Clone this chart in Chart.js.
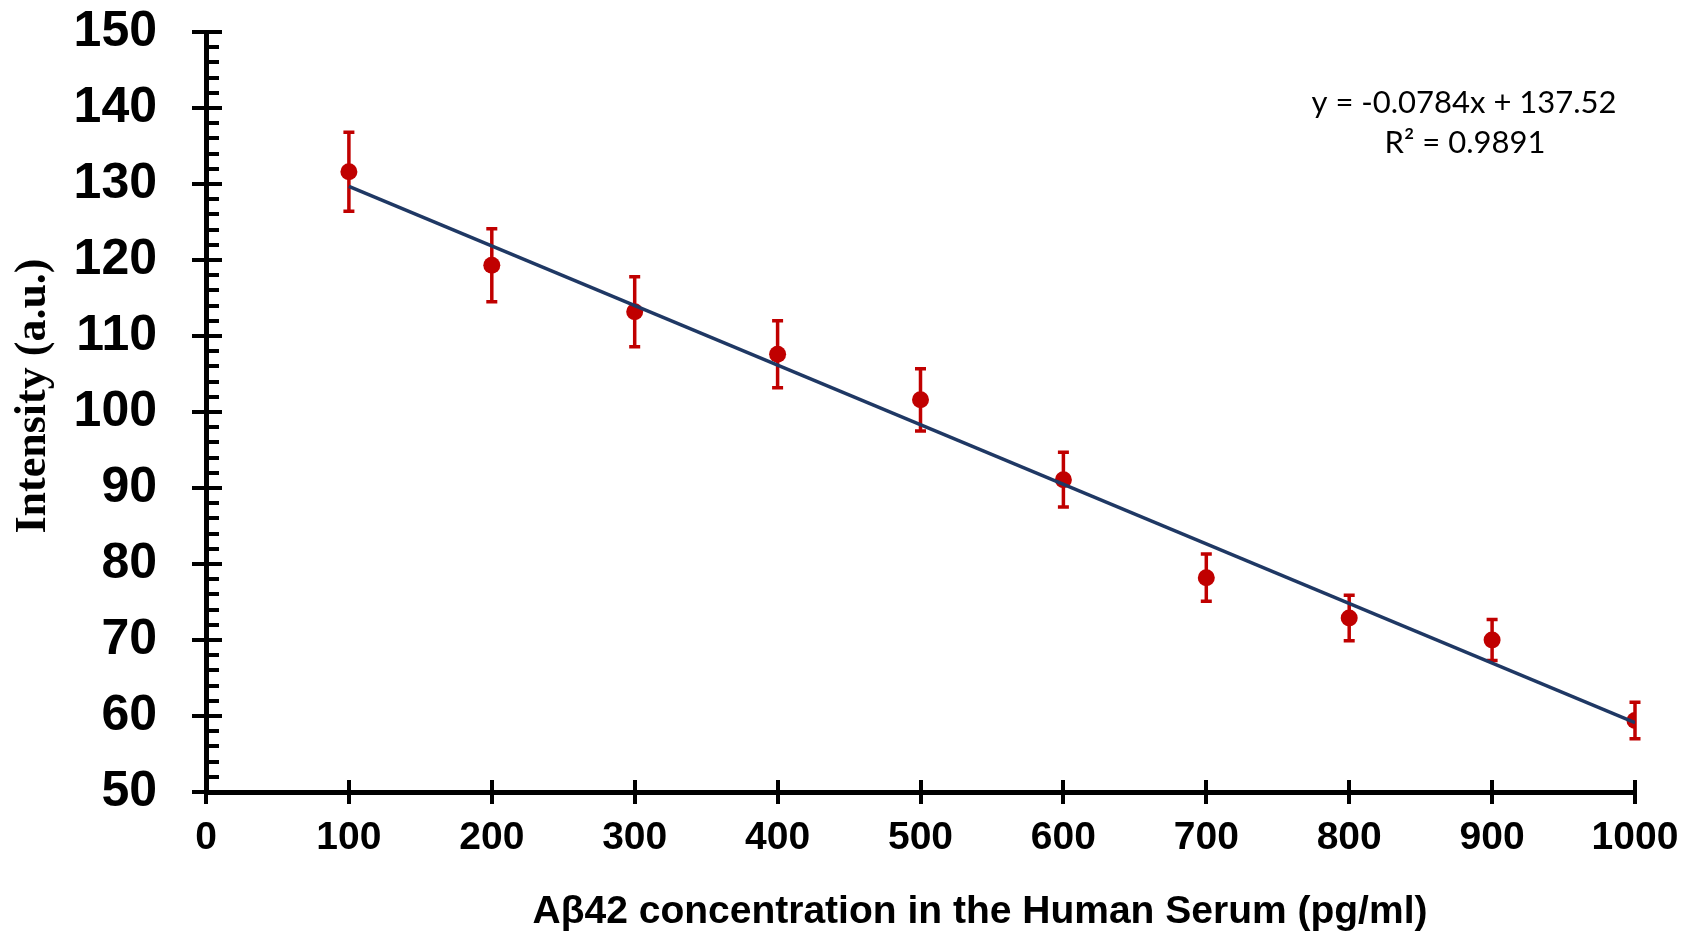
<!DOCTYPE html>
<html>
<head>
<meta charset="utf-8">
<title>Aβ42 calibration</title>
<script src="https://cdn.jsdelivr.net/npm/chart.js@4.4.1/dist/chart.umd.min.js"></script>
<style>
  html, body { margin: 0; padding: 0; background: #fff; }
  canvas { display: block; }
</style>
</head>
<body>
<canvas id="chart" width="1681" height="936"></canvas>
<script>
// Measured points: concentration (pg/ml), mean intensity and error (±)
const concentration = [100, 200, 300, 400, 500, 600, 700, 800, 900, 1000];
const intensity = [131.6, 119.3, 113.2, 107.6, 101.6, 91.1, 78.2, 72.9, 70.0, 59.4];
const errorSize = [5.2, 4.8, 4.6, 4.4, 4.1, 3.6, 3.1, 3.0, 2.7, 2.4];

// Linear fit
const slope = -0.0784;
const intercept = 137.52;
const rSquared = 0.9891;

const xTitle = 'Aβ42 concentration in the Human Serum (pg/ml)';
const yTitle = 'Intensity (a.u.)';

const RED = '#C00000';
const NAVY = '#1F3864';

const points = concentration.map((x, i) => ({ x: x, y: intensity[i] }));
const fitEnds = [concentration[0], concentration[concentration.length - 1]];
const fitLine = fitEnds.map(x => ({ x: x, y: slope * x + intercept }));

// error bars under the markers
const errorBars = {
  id: 'errorBars',
  beforeDatasetsDraw(chart) {
    const { ctx, scales: { x, y } } = chart;
    ctx.save();
    ctx.strokeStyle = RED;
    ctx.lineWidth = 3.5;
    concentration.forEach((c, i) => {
      const px = x.getPixelForValue(c);
      const top = y.getPixelForValue(intensity[i] + errorSize[i]);
      const bot = y.getPixelForValue(intensity[i] - errorSize[i]);
      ctx.beginPath();
      ctx.moveTo(px, top); ctx.lineTo(px, bot);
      ctx.moveTo(px - 5.5, top); ctx.lineTo(px + 5.5, top);
      ctx.moveTo(px - 5.5, bot); ctx.lineTo(px + 5.5, bot);
      ctx.stroke();
    });
    ctx.restore();
  }
};

// tick marks (major crossing the axis, minor inside), titles, fit equation
const decorations = {
  id: 'decorations',
  afterDraw(chart) {
    const { ctx, chartArea, scales: { x, y } } = chart;
    const ax = chartArea.left, ay = chartArea.bottom;
    ctx.save();
    ctx.strokeStyle = '#000';
    ctx.lineWidth = 4;
    ctx.beginPath();
    for (let v = y.min; v <= y.max; v += 2) {
      const py = Math.round(y.getPixelForValue(v));
      if (v % 10 === 0) { ctx.moveTo(ax - 14, py); ctx.lineTo(ax + 16, py); }
      else { ctx.moveTo(ax, py); ctx.lineTo(ax + 13, py); }
    }
    for (let v = x.min; v <= x.max; v += 100) {
      const px = Math.round(x.getPixelForValue(v));
      ctx.moveTo(px, ay - 12); ctx.lineTo(px, ay + 12);
    }
    ctx.stroke();

    ctx.fillStyle = '#000';
    ctx.textAlign = 'center';
    ctx.textBaseline = 'alphabetic';
    ctx.font = 'bold 39px "Liberation Sans", Arial, sans-serif';
    ctx.fillText(xTitle, 980, 923);

    ctx.save();
    ctx.translate(45, 396);
    ctx.rotate(-Math.PI / 2);
    ctx.font = 'bold 44px "Liberation Serif", "Times New Roman", serif';
    ctx.fillText(yTitle, 0, 0);
    ctx.restore();

    ctx.font = '31px Lato, "Open Sans", sans-serif';
    ctx.fillStyle = '#000';
    ctx.fillText('y = ' + slope + 'x + ' + intercept, 1464, 113);
    ctx.fillText('R² = ' + rSquared, 1465, 153);
    ctx.restore();
  }
};

new Chart(document.getElementById('chart'), {
  type: 'scatter',
  data: {
    datasets: [
      {
        type: 'line',
        label: 'Linear fit',
        data: fitLine,
        borderColor: NAVY,
        borderWidth: 3.5,
        pointRadius: 0,
        fill: false
      },
      {
        label: 'Aβ42',
        data: points,
        backgroundColor: RED,
        borderColor: RED,
        pointRadius: 8.5,
        pointBorderWidth: 0
      }
    ]
  },
  options: {
    responsive: false,
    devicePixelRatio: 1,
    animation: false,
    layout: { padding: { top: 32, right: 46, left: 0, bottom: 0 } },
    plugins: { legend: { display: false }, tooltip: { enabled: false } },
    scales: {
      x: {
        type: 'linear',
        min: 0,
        max: 1000,
        afterFit(scale) {
          scale.height = 144;
          scale.paddingLeft = 0;
          scale.paddingRight = 0;
        },
        grid: { display: false, drawTicks: false },
        border: { display: true, color: '#000', width: 5 },
        ticks: {
          stepSize: 100,
          padding: 23,
          maxRotation: 0,
          color: '#000',
          callback: v => String(v),
          font: { family: '"Liberation Sans", Arial, sans-serif', size: 39, weight: 'bold' }
        }
      },
      y: {
        type: 'linear',
        min: 50,
        max: 150,
        afterFit(scale) {
          scale.width = 206;
          scale.paddingTop = 0;
          scale.paddingBottom = 0;
        },
        grid: { display: false, drawTicks: false },
        border: { display: true, color: '#000', width: 5 },
        ticks: {
          stepSize: 10,
          padding: 49,
          color: '#000',
          font: { family: '"Liberation Sans", Arial, sans-serif', size: 50, weight: 'bold' }
        }
      }
    }
  },
  plugins: [errorBars, decorations]
});
</script>
</body>
</html>
